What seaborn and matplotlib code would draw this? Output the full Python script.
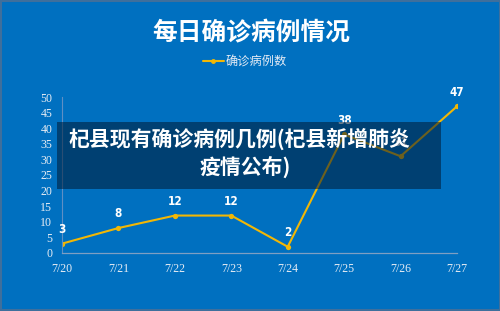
import matplotlib
matplotlib.use("Agg")
import matplotlib.pyplot as plt
import seaborn as sns
import pandas as pd
from matplotlib.patches import Rectangle
from matplotlib.lines import Line2D

dates = ["7/20", "7/21", "7/22", "7/23", "7/24", "7/25", "7/26", "7/27"]
cases = [3, 8, 12, 12, 2, 38, 31, 47]
series_name = "确诊病例数"
title = "每日确诊病例情况"
overlay_lines = ["杞县现有确诊病例几例(杞县新增肺炎", "疫情公布)"]

BG = "#0070c0"
GOLD = "#f2b705"
TICK = "#e6ecf4"
CJK = ["Noto Sans CJK SC", "DejaVu Sans"]

sns.set_theme(style="white")
plt.rcParams["font.family"] = CJK

fig = plt.figure(figsize=(5, 3.11), dpi=100, facecolor=BG)
ax = fig.add_axes([0.124, 0.1865, 0.79, 0.5016])
ax.set_facecolor(BG)

df = pd.DataFrame({"date": dates, "cases": cases})
sns.lineplot(data=df, x="date", y="cases", ax=ax, color=GOLD, linewidth=1.5,
             marker="o", markersize=3.8, markeredgewidth=0, sort=False)

ax.set_xlim(0, len(dates) - 1)
ax.set_ylim(0, 50)
ax.set_yticks(range(0, 51, 5))
ax.set_xlabel("")
ax.set_ylabel("")
ax.tick_params(axis="both", length=0, colors=TICK, labelsize=8.6)
ax.tick_params(axis="y", pad=7)
ax.tick_params(axis="x", pad=7)
for lab in ax.get_xticklabels() + ax.get_yticklabels():
    lab.set_fontfamily("Liberation Serif")
    lab.set_color(TICK)

for s in ["top", "right"]:
    ax.spines[s].set_visible(False)
ax.spines["bottom"].set_color("#7f9fc2")
ax.spines["bottom"].set_linewidth(0.9)
ax.spines["left"].set_color("#5f8fc4")
ax.spines["left"].set_linewidth(0.8)

for i, v in enumerate(cases):
    ax.annotate(str(v), (i, v), xytext=(0, 5.5), textcoords="offset points",
                ha="center", va="bottom", color="white", fontsize=8.4,
                fontweight="bold", fontfamily="DejaVu Sans", fontstretch="condensed",
                clip_on=False)

fig.text(0.502, 1 - 33 / 311, title, ha="center", va="center", color="white",
         fontsize=17.8, fontweight="bold", family=CJK)

handle = Line2D([], [], color=GOLD, linewidth=1.5, marker="o", markersize=3.5,
                markeredgewidth=0)
fig.legend([handle], [series_name], loc="center", bbox_to_anchor=(0.49, 1 - 62 / 311),
           frameon=False, labelcolor="#e4ebf5", handlelength=1.7,
           handletextpad=0.2, prop={"family": CJK, "size": 8.8})

fig.patches.append(Rectangle((57 / 500, 1 - 189 / 311), 384 / 500, 67 / 311,
                             transform=fig.transFigure, facecolor="#001a33",
                             alpha=0.55, edgecolor="none", zorder=5))
fig.text(0.478, 1 - 139 / 311, overlay_lines[0], ha="center", va="center",
         color="white", fontsize=15, fontweight="bold", family=CJK, zorder=6)
fig.text(0.49, 1 - 167 / 311, overlay_lines[1], ha="center", va="center",
         color="white", fontsize=15, fontweight="bold", family=CJK, zorder=6)

fig.patches.append(Rectangle((0.001, 0.002), 0.998, 0.996, transform=fig.transFigure,
                             facecolor="none", edgecolor="#3f6f9c", linewidth=1.5,
                             zorder=10))

fig.savefig("out.png", dpi=100, facecolor=BG)
